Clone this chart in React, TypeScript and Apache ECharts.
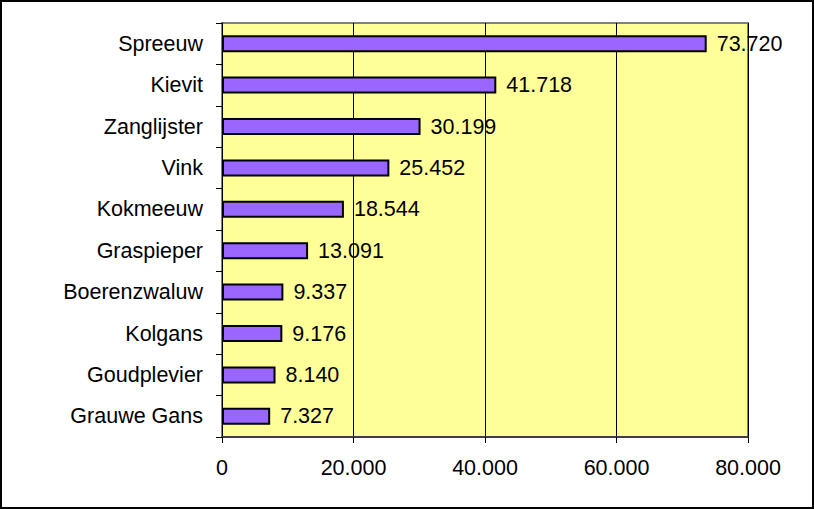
import React, { useEffect, useRef } from "react";
import * as echarts from "echarts";

const categories = [
  "Spreeuw",
  "Kievit",
  "Zanglijster",
  "Vink",
  "Kokmeeuw",
  "Graspieper",
  "Boerenzwaluw",
  "Kolgans",
  "Goudplevier",
  "Grauwe Gans",
];
const values = [73720, 41718, 30199, 25452, 18544, 13091, 9337, 9176, 8140, 7327];

const fmt = (v: number) => {
  const s = Math.round(v).toString();
  return s.replace(/\B(?=(\d{3})+(?!\d))/g, ".");
};

export default function App() {
  const ref = useRef<HTMLDivElement>(null);
  useEffect(() => {
    const chart = echarts.init(ref.current!, null, { renderer: "svg" });
    const font = "Liberation Sans, Arial, sans-serif";
    chart.setOption({
      animation: false,
      backgroundColor: "#ffffff",
      grid: {
        left: 222,
        top: 23,
        width: 526,
        height: 414,
        show: true,
        backgroundColor: "#FFFF99",
        borderColor: "#808080",
        borderWidth: 2,
      },
      xAxis: {
        type: "value",
        min: 0,
        max: 80000,
        interval: 20000,
        axisLine: { show: true, lineStyle: { color: "#404040", width: 2 } },
        axisTick: { show: true, length: 6, lineStyle: { color: "#000", width: 1 } },
        splitLine: { show: true, lineStyle: { color: "#000", width: 1 } },
        axisLabel: {
          color: "#000",
          fontSize: 21.5,
          fontFamily: font,
          margin: 20,
          formatter: (v: number) => fmt(v),
        },
      },
      yAxis: {
        type: "category",
        data: categories,
        inverse: true,
        axisLine: { show: true, lineStyle: { color: "#000", width: 1 } },
        axisTick: { show: true, length: 6, lineStyle: { color: "#000", width: 1 } },
        axisLabel: {
          color: "#000",
          fontSize: 21.5,
          fontFamily: font,
          margin: 19,
        },
      },
      series: [
        {
          type: "bar",
          data: values,
          barWidth: 17,
          itemStyle: { color: "#9966FF", borderColor: "#000", borderWidth: 2 },
          label: {
            show: true,
            position: "right",
            distance: 10,
            color: "#000",
            fontSize: 21.5,
            fontFamily: font,
            formatter: (p: any) => fmt(p.value),
          },
        },
      ],
      graphic: [
        {
          type: "rect",
          shape: { x: 1, y: 1, width: 812, height: 507 },
          style: { fill: "none", stroke: "#000", lineWidth: 2 },
          silent: true,
        },
      ],
    });
    return () => chart.dispose();
  }, []);
  return (
    <div
      ref={ref}
      style={{ position: "fixed", left: 0, top: 0, width: 814, height: 509 }}
    />
  );
}
